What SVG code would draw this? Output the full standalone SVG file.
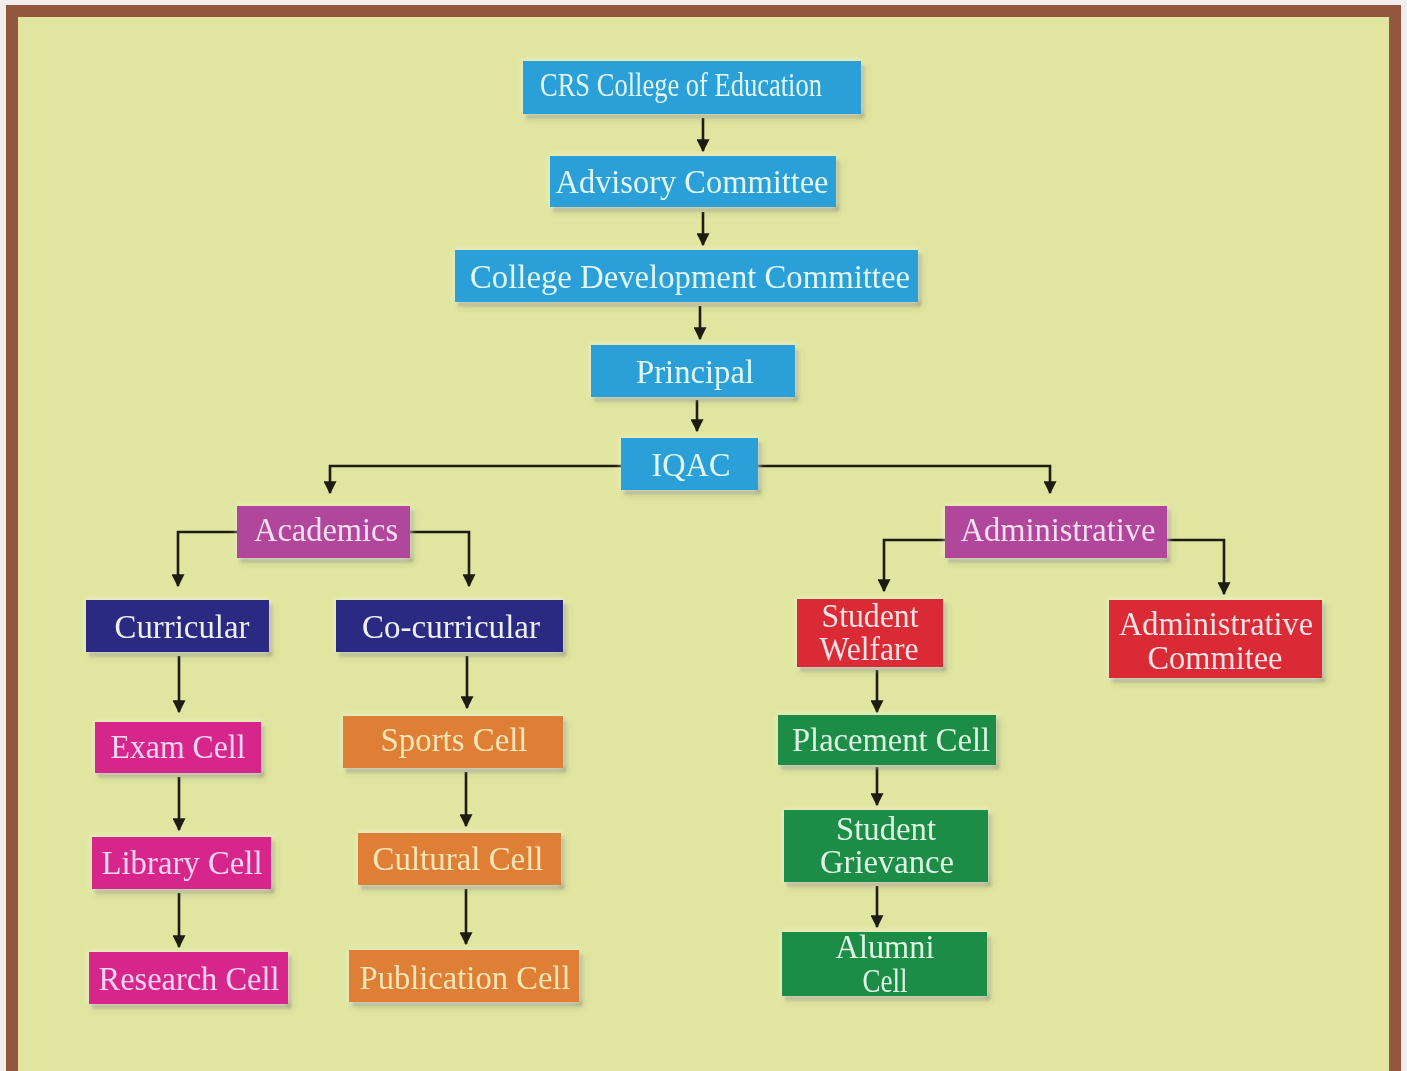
<svg xmlns="http://www.w3.org/2000/svg" width="1407" height="1071" viewBox="0 0 1407 1071">
<defs>
<style>
.t{font-family:"Liberation Serif","Times New Roman",serif;text-anchor:middle;font-size:33px}
.blue rect{fill:#2a9fd8}
.blue text{fill:#e2f8f4}
.purple rect{fill:#b0469a}
.purple text{fill:#f8e0f4}
.navy rect{fill:#2b2a82}
.navy text{fill:#eef0f8}
.red rect{fill:#d92a36}
.red text{fill:#f8e4e4}
.mag rect{fill:#d6288c}
.mag text{fill:#f8d4f0}
.orange rect{fill:#de7f34}
.orange text{fill:#f6e6b8}
.green rect{fill:#1f8c46}
.green text{fill:#dcf6e4}
.box{filter:url(#sh)}
#connectors path{fill:none;stroke:#1c1c12;stroke-width:2.6}
</style>
<filter id="sh" x="-10%" y="-20%" width="125%" height="150%">
<feDropShadow dx="0" dy="0" stdDeviation="3" flood-color="#ffffff" flood-opacity="0.6" result="a"/>
<feDropShadow dx="3" dy="4" stdDeviation="1.5" flood-color="#4a4a3a" flood-opacity="0.45"/>
</filter>
<marker id="ah" viewBox="0 0 10 10" refX="9" refY="5" markerWidth="5" markerHeight="5" orient="auto" markerUnits="strokeWidth">
<path d="M0,0 L10,5 L0,10 z" fill="#1c1c12"/>
</marker>
</defs>
<rect x="0" y="0" width="1407" height="1071" fill="#f2eef0"/>
<rect x="12" y="11" width="1383" height="1070" fill="#e0e6a0" stroke="#93563f" stroke-width="12"/>

<g id="connectors">
<path d="M703,118 V151" marker-end="url(#ah)"/>
<path d="M703,212 V245" marker-end="url(#ah)"/>
<path d="M700,306 V339" marker-end="url(#ah)"/>
<path d="M697,400 V431" marker-end="url(#ah)"/>
<path d="M621,466 H330 V493" marker-end="url(#ah)"/>
<path d="M758,466 H1050 V493" marker-end="url(#ah)"/>
<path d="M237,532 H178 V586" marker-end="url(#ah)"/>
<path d="M410,532 H469 V586" marker-end="url(#ah)"/>
<path d="M945,540 H884 V591" marker-end="url(#ah)"/>
<path d="M1167,540 H1224 V594" marker-end="url(#ah)"/>
<path d="M179,656 V712" marker-end="url(#ah)"/>
<path d="M179,777 V830" marker-end="url(#ah)"/>
<path d="M179,893 V947" marker-end="url(#ah)"/>
<path d="M467,656 V708" marker-end="url(#ah)"/>
<path d="M466,772 V826" marker-end="url(#ah)"/>
<path d="M466,889 V944" marker-end="url(#ah)"/>
<path d="M877,670 V712" marker-end="url(#ah)"/>
<path d="M877,767 V805" marker-end="url(#ah)"/>
<path d="M877,886 V927" marker-end="url(#ah)"/>
</g>

<g id="crs" class="box blue"><rect x="523" y="61" width="338" height="53"/><text class="t" x="681" y="96" font-size="26" textLength="282" lengthAdjust="spacingAndGlyphs">CRS College of Education</text></g>
<g id="advisory" class="box blue"><rect x="550" y="156" width="286" height="51"/><text class="t" x="692" y="193" textLength="273" lengthAdjust="spacingAndGlyphs">Advisory Committee</text></g>
<g id="cdc" class="box blue"><rect x="455" y="250" width="463" height="52"/><text class="t" x="690" y="288" textLength="440" lengthAdjust="spacingAndGlyphs">College Development Committee</text></g>
<g id="principal" class="box blue"><rect x="591" y="345" width="204" height="52"/><text class="t" x="695" y="383" textLength="118" lengthAdjust="spacingAndGlyphs">Principal</text></g>
<g id="iqac" class="box blue"><rect x="621" y="438" width="137" height="52"/><text class="t" x="691" y="476" textLength="79" lengthAdjust="spacingAndGlyphs">IQAC</text></g>

<g id="academics" class="box purple"><rect x="237" y="506" width="173" height="52"/><text class="t" x="326" y="541" textLength="144" lengthAdjust="spacingAndGlyphs">Academics</text></g>
<g id="administrative" class="box purple"><rect x="945" y="506" width="222" height="52"/><text class="t" x="1058" y="541" textLength="195" lengthAdjust="spacingAndGlyphs">Administrative</text></g>

<g id="curricular" class="box navy"><rect x="86" y="600" width="183" height="52"/><text class="t" x="182" y="638" textLength="135" lengthAdjust="spacingAndGlyphs">Curricular</text></g>
<g id="cocurricular" class="box navy"><rect x="336" y="600" width="227" height="52"/><text class="t" x="451" y="638" textLength="178" lengthAdjust="spacingAndGlyphs">Co-curricular</text></g>

<g id="studentwelfare" class="box red"><rect x="797" y="599" width="146" height="68"/><text class="t" x="870" y="627" font-size="30" textLength="97" lengthAdjust="spacingAndGlyphs">Student</text><text class="t" x="869" y="660" font-size="30" textLength="99" lengthAdjust="spacingAndGlyphs">Welfare</text></g>
<g id="admincommitee" class="box red"><rect x="1109" y="600" width="213" height="78"/><text class="t" x="1216" y="635" font-size="29" textLength="194" lengthAdjust="spacingAndGlyphs">Administrative</text><text class="t" x="1215" y="669" font-size="29" textLength="135" lengthAdjust="spacingAndGlyphs">Commitee</text></g>

<g id="examcell" class="box mag"><rect x="95" y="722" width="166" height="51"/><text class="t" x="178" y="758" font-size="31" textLength="135" lengthAdjust="spacingAndGlyphs">Exam Cell</text></g>
<g id="librarycell" class="box mag"><rect x="92" y="837" width="179" height="52"/><text class="t" x="182" y="874" font-size="31" textLength="161" lengthAdjust="spacingAndGlyphs">Library Cell</text></g>
<g id="researchcell" class="box mag"><rect x="89" y="952" width="199" height="52"/><text class="t" x="189" y="990" font-size="31" textLength="181" lengthAdjust="spacingAndGlyphs">Research Cell</text></g>

<g id="sportscell" class="box orange"><rect x="343" y="716" width="220" height="52"/><text class="t" x="454" y="751" font-size="31" textLength="147" lengthAdjust="spacingAndGlyphs">Sports Cell</text></g>
<g id="culturalcell" class="box orange"><rect x="358" y="833" width="203" height="52"/><text class="t" x="458" y="870" font-size="31" textLength="171" lengthAdjust="spacingAndGlyphs">Cultural Cell</text></g>
<g id="publicationcell" class="box orange"><rect x="349" y="950" width="230" height="52"/><text class="t" x="465" y="989" font-size="31" textLength="211" lengthAdjust="spacingAndGlyphs">Publication Cell</text></g>

<g id="placementcell" class="box green"><rect x="778" y="715" width="218" height="50"/><text class="t" x="891" y="751" font-size="31" textLength="198" lengthAdjust="spacingAndGlyphs">Placement Cell</text></g>
<g id="studentgrievance" class="box green"><rect x="784" y="810" width="204" height="72"/><text class="t" x="886" y="840" font-size="27" textLength="100" lengthAdjust="spacingAndGlyphs">Student</text><text class="t" x="887" y="873" font-size="27" textLength="134" lengthAdjust="spacingAndGlyphs">Grievance</text></g>
<g id="alumnicell" class="box green"><rect x="782" y="932" width="205" height="64"/><text class="t" x="885" y="958" font-size="26" textLength="99" lengthAdjust="spacingAndGlyphs">Alumni</text><text class="t" x="885" y="992" font-size="22" textLength="45" lengthAdjust="spacingAndGlyphs">Cell</text></g>
</svg>
